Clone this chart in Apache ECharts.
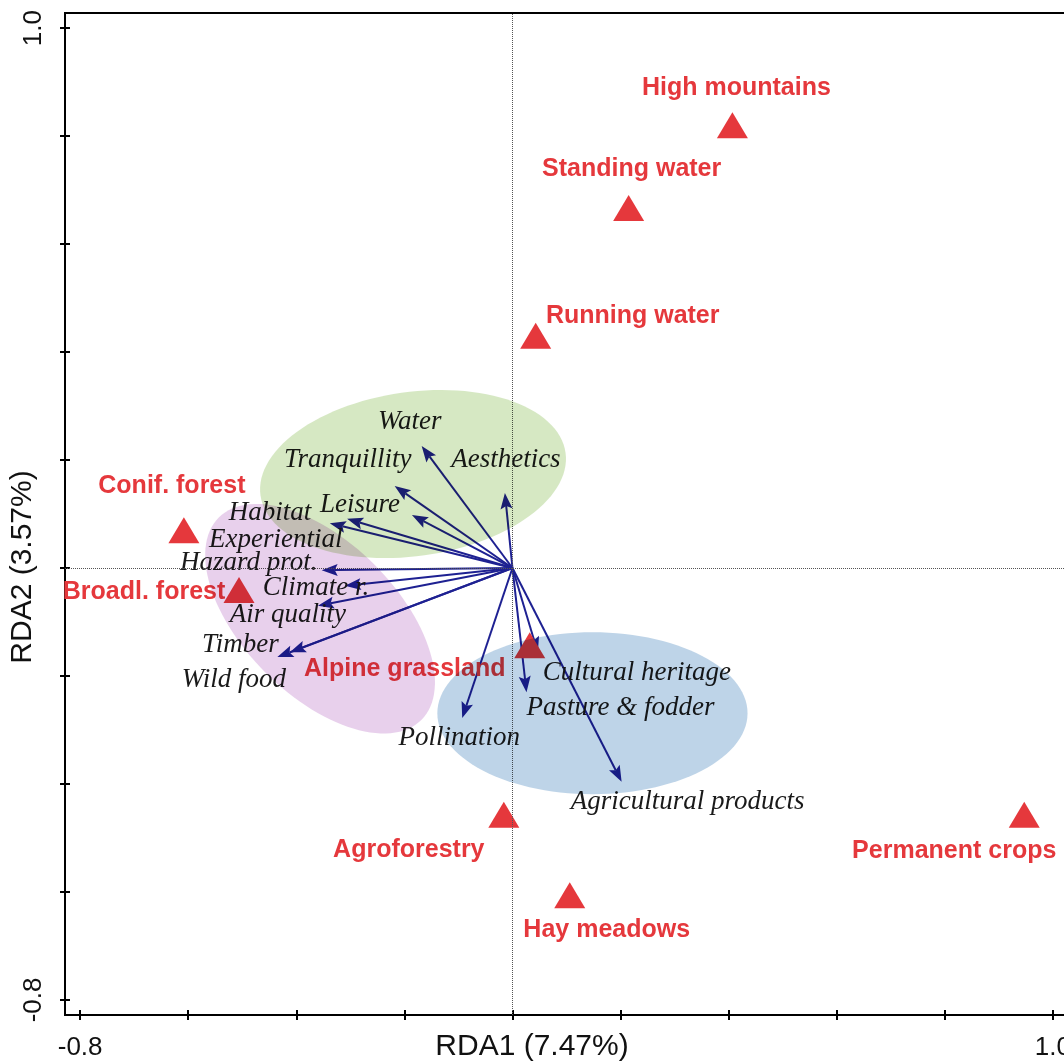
<!DOCTYPE html>
<html><head><meta charset="utf-8">
<script src="https://cdn.jsdelivr.net/npm/echarts@6/dist/echarts.min.js"></script>
<style>html,body{margin:0;padding:0;background:#fff}#c{width:1064px;height:1062px}</style>
</head><body><div id="c"></div>
<script>
// ---- data ----
const siteNames = ['High mountains','Standing water','Running water','Conif. forest','Broadl. forest','Alpine grassland','Agroforestry','Hay meadows','Permanent crops'];
const siteRDA1 = [0.407, 0.215, 0.043, -0.608, -0.506, 0.032, -0.016, 0.106, 0.947];
const siteRDA2 = [0.820, 0.667, 0.430, 0.070, -0.041, -0.143, -0.457, -0.606, -0.457];

const serviceNames = ['Water','Tranquillity','Leisure','Aesthetics','Habitat','Experiential','Hazard prot.','Climate r.','Air quality','Timber','Wild food','Pollination','Pasture & fodder','Cultural heritage','Agricultural products'];
const serviceRDA1 = [-0.168, -0.218, -0.186, -0.014, -0.306, -0.338, -0.353, -0.310, -0.360, -0.435, -0.412, -0.093, 0.026, 0.047, 0.202];
const serviceRDA2 = [0.226, 0.152, 0.098, 0.139, 0.091, 0.083, -0.004, -0.033, -0.070, -0.165, -0.156, -0.278, -0.230, -0.157, -0.396];

const ellipseCenterX = [-0.184, -0.356, 0.148];
const ellipseCenterY = [0.174, -0.094, -0.269];
const ellipseSemiMajor = [0.285, 0.265, 0.287];
const ellipseSemiMinor = [0.152, 0.142, 0.150];
const ellipseAngleDeg = [8, -45, 0];

const tickValues = [-0.8, -0.6, -0.4, -0.2, 0, 0.2, 0.4, 0.6, 0.8, 1.0];
const tickLabels = [-0.8, 1.0];
const xAxisTitle = 'RDA1 (7.47%)';
const yAxisTitle = 'RDA2 (3.57%)';

// ---- layout / style (not data) ----
const siteLabelOffset = {
  'High mountains':[4,-37], 'Standing water':[3,-39], 'Running water':[97,-20],
  'Conif. forest':[-12,-44], 'Broadl. forest':[-95,2], 'Alpine grassland':[-125,24],
  'Agroforestry':[-95,35], 'Hay meadows':[37,35], 'Permanent crops':[-70,36]
};
const serviceLabelOffset = {
  'Water':[-12,-24], 'Tranquillity':[-47,-26], 'Leisure':[-52,-10], 'Aesthetics':[1,-33],
  'Habitat':[-77,-6], 'Experiential':[-54,17], 'Hazard prot.':[-73,-7], 'Climate r.':[-29,2],
  'Air quality':[-30,9], 'Timber':[-37,-12], 'Wild food':[-56,28], 'Pollination':[-3,20],
  'Pasture & fodder':[94,16], 'Cultural heritage':[99,20], 'Agricultural products':[66,20]
};
const ellipseColors = ['#d6e8c3', '#e8d0ec', '#bed4e8'];
const RED = '#e5383c';
const NAVY = '#1e2192';
const XMIN = -0.828, XMAX = 1.028, YMIN = -0.828, YMAX = 1.028;

const chart = echarts.init(document.getElementById('c'), null, {renderer:'canvas'});

const siteData = siteNames.map((n,i)=>({
  name:n, value:[siteRDA1[i], siteRDA2[i]],
  label:{offset: siteLabelOffset[n]}
}));
const serviceData = serviceNames.map((n,i)=>({
  name:n, value:[serviceRDA1[i], serviceRDA2[i]],
  label:{offset: serviceLabelOffset[n]}
}));
const ellipseData = ellipseCenterX.map((cx,i)=>[cx, ellipseCenterY[i], ellipseSemiMajor[i], ellipseSemiMinor[i], ellipseAngleDeg[i], i]);

function axisCommon(isX){
  return {
    type:'value', min: isX?XMIN:YMIN, max: isX?XMAX:YMAX,
    splitLine:{show:false},
    axisLine:{show:true, onZero:false, lineStyle:{color:'#000', width:2}},
    axisTick:{show:true, inside:false, length:5, customValues: tickValues, lineStyle:{color:'#000', width:2}},
    axisLabel:{show:true, customValues: tickLabels, color:'#111', fontSize:26, fontFamily:'Liberation Sans',
      margin: isX?20:18, rotate: isX?0:90, formatter:v=>v.toFixed(1)}
  };
}
function axisInner(isX){
  return {
    type:'value', min: isX?XMIN:YMIN, max: isX?XMAX:YMAX,
    splitLine:{show:false},
    axisLine:{show:false, onZero:false},
    axisTick:{show:true, inside:true, length:5, customValues: tickValues, lineStyle:{color:'#000', width:2}},
    axisLabel:{show:false}
  };
}

const option = {
  animation:false,
  backgroundColor:'#fff',
  grid:{left:65, top:13, width:1003, height:1002, show:true, borderColor:'#000', borderWidth:2,
    backgroundColor:'transparent', containLabel:false, outerBoundsMode:'none'},
  xAxis:[Object.assign(axisCommon(true),{position:'bottom'}), Object.assign(axisInner(true),{position:'bottom'})],
  yAxis:[Object.assign(axisCommon(false),{position:'left'}), Object.assign(axisInner(false),{position:'left'})],
  graphic:[
    {type:'text', x:532, y:1047, style:{text:xAxisTitle, font:'30px "Liberation Sans"', fill:'#111', textAlign:'center', textVerticalAlign:'middle'}},
    {type:'text', x:23, y:567, rotation:Math.PI/2, style:{text:yAxisTitle, font:'30px "Liberation Sans"', fill:'#111', textAlign:'center', textVerticalAlign:'middle'}}
  ],
  series:[
    { // zero reference lines + arrows
      type:'custom', name:'services', coordinateSystem:'cartesian2d', z:2,
      data: serviceData.map(d=>d.value),
      encode:{x:0, y:1},
      renderItem:(params, api)=>{
        const o = api.coord([0,0]);
        const p = api.coord([api.value(0), api.value(1)]);
        const dx=p[0]-o[0], dy=p[1]-o[1]; const L=Math.hypot(dx,dy)||1;
        const ux=dx/L, uy=dy/L, hl=16, hw=6;
        const bx=p[0]-ux*hl, by=p[1]-uy*hl;
        return {type:'group', children:[
          {type:'line', shape:{x1:o[0], y1:o[1], x2:bx+ux*3, y2:by+uy*3}, style:{stroke:NAVY, lineWidth:2}},
          {type:'polygon', shape:{points:[[p[0],p[1]],[bx-uy*hw, by+ux*hw],[bx+ux*3, by+uy*3],[bx+uy*hw, by-ux*hw]]}, style:{fill:NAVY}}
        ]};
      },
      markLine:{silent:true, symbol:'none', label:{show:false}, animation:false,
        lineStyle:{type:'dotted', color:'#555', width:1},
        data:[{xAxis:0},{yAxis:0}]}
    },
    { // service labels
      type:'scatter', name:'serviceLabels', z:3, symbolSize:0,
      itemStyle:{opacity:1},
      data: serviceData,
      label:{show:true, position:'inside', formatter:p=>p.name, color:'#1a1a1a', fontSize:27,
        fontFamily:'Liberation Serif', fontStyle:'italic', align:'center', verticalAlign:'middle'}
    },
    { // sites
      type:'scatter', name:'sites', z:4, symbol:'triangle', symbolSize:[31,26],
      itemStyle:{color:RED, opacity:1},
      data: siteData,
      label:{show:true, position:'inside', formatter:p=>p.name, color:RED, fontSize:25, fontWeight:'bold',
        fontFamily:'Liberation Sans', align:'center', verticalAlign:'middle'}
    },
    { // ellipses (multiplied on top)
      type:'custom', name:'ellipses', coordinateSystem:'cartesian2d', z:10,
      blendMode:'multiply',
      data: ellipseData, encode:{x:0, y:1},
      renderItem:(params, api)=>{
        const cx=api.value(0), cy=api.value(1), a=api.value(2), b=api.value(3), th=api.value(4)*Math.PI/180;
        const idx=api.value(5);
        const pts=[];
        for(let k=0;k<120;k++){
          const t=k/120*Math.PI*2;
          const x=cx + a*Math.cos(t)*Math.cos(th) - b*Math.sin(t)*Math.sin(th);
          const y=cy + a*Math.cos(t)*Math.sin(th) + b*Math.sin(t)*Math.cos(th);
          pts.push(api.coord([x,y]));
        }
        return {type:'polygon', shape:{points:pts, smooth:0}, style:{fill:ellipseColors[idx]}};
      }
    }
  ]
};
chart.setOption(option);
</script>
</body></html>
